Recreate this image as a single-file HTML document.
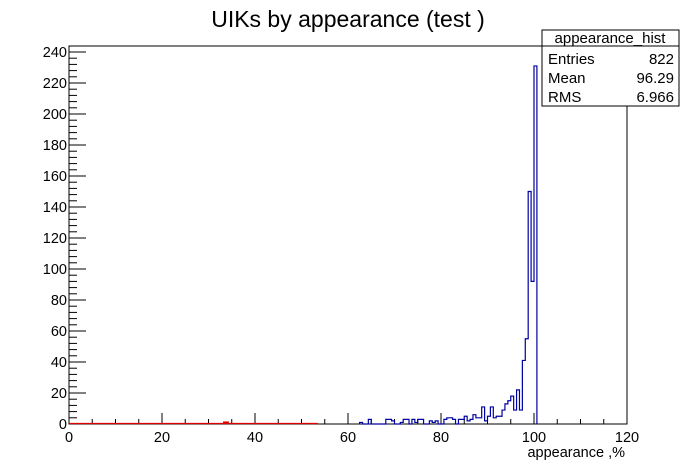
<!DOCTYPE html>
<html><head><meta charset="utf-8"><style>
body{margin:0;background:#fff;}
svg{display:block;font-family:"Liberation Sans",Arial,sans-serif;}
</style></head><body>
<svg id="c" width="696" height="472" viewBox="0 0 696 472">
<rect x="0" y="0" width="696" height="472" fill="#fff"/>
<text x="348" y="27" font-size="23" text-anchor="middle">UIKs by appearance (test )</text>
<rect x="69" y="46" width="558" height="378" fill="none" stroke="#000" stroke-width="1"/>
<g id="axes"></g>
<g id="hist"></g>
<text x="625" y="457" font-size="14.5" text-anchor="end">appearance ,%</text>
<g>
<rect x="542" y="30" width="137" height="76" fill="#fff" stroke="#000" stroke-width="1"/>
<line x1="542" y1="46" x2="679" y2="46" stroke="#000"/>
<text x="610" y="43" font-size="15" text-anchor="middle">appearance_hist</text>
<text x="548" y="64" font-size="15">Entries</text>
<text x="674" y="64" font-size="15" text-anchor="end">822</text>
<text x="548" y="83" font-size="15">Mean</text>
<text x="674" y="83" font-size="15" text-anchor="end">96.29</text>
<text x="548" y="102" font-size="15">RMS</text>
<text x="674" y="102" font-size="15" text-anchor="end">6.966</text>
</g>
</svg>
<script>
const xTicks=[0,20,40,60,80,100,120];
const yTicks=[0,20,40,60,80,100,120,140,160,180,200,220,240];
const binWidth=0.625;
const binLow=[62.5,64.375,68.125,68.75,69.375,71.25,71.875,72.5,73.75,74.375,75,75.625,77.5,78.125,78.75,80.625,81.25,81.875,82.5,83.75,84.375,85,85.625,86.25,86.875,87.5,88.125,88.75,89.375,90,90.625,91.25,91.875,92.5,93.125,93.75,94.375,95,95.625,96.25,96.875,97.5,98.125,98.75,99.375,100];
const counts=[1,3,3,3,2,1,3,3,3,1,3,3,2,1,2,3,4,4,3,3,3,5,2,3,6,4,4,11,2,5,11,4,5,5,9,13,15,18,9,22,9,41,55,150,92,231];
const redLow=[33.125];
const redCounts=[1];
const X0=69,X1=627,Y0=424,YT=46;
const sx=v=>X0+(v-0)/120*(X1-X0);
const sy=v=>Y0-v*1.55;
const NS="http://www.w3.org/2000/svg";
function mk(t,a,p){const e=document.createElementNS(NS,t);for(const k in a)e.setAttribute(k,a[k]);p.appendChild(e);return e;}
const ax=document.getElementById('axes');
for(let v=0;v<=120;v+=5){const maj=v%20===0;const l=mk('line',{x1:sx(v),x2:sx(v),y1:Y0,y2:Y0-(maj?11:5),stroke:'#000'},ax);

}
xTicks.forEach(v=>{const t=mk('text',{x:sx(v),y:Y0+18,'font-size':14.5,'text-anchor':'middle'},ax);t.textContent=v;

});
for(let v=0;v<=240;v+=4){const maj=v%20===0;const l=mk('line',{x1:X0,x2:X0+(maj?17:8),y1:sy(v),y2:sy(v),stroke:'#000'},ax);

}
yTicks.forEach(v=>{const t=mk('text',{x:X0-2,y:sy(v)+5,'font-size':14.5,'text-anchor':'end'},ax);t.textContent=v;

});
const hg=document.getElementById('hist');
const b1=mk('line',{x1:X0,x2:sx(53.5),y1:Y0-0.5,y2:Y0-0.5,stroke:'#e00000','stroke-width':1.3},hg);


redLow.forEach((v,i)=>{const r=mk('rect',{x:sx(v),y:sy(redCounts[i])-1,width:sx(v+binWidth*2)-sx(v),height:sy(0)-sy(redCounts[i])+1,fill:'#e00000'},hg);

});
let d='M'+sx(binLow[0])+','+Y0;
for(let i=0;i<binLow.length;i++){
 const a=binLow[i],b=a+binWidth;
 if(i>0&&Math.abs(binLow[i-1]+binWidth-a)>1e-6){d+=' L'+sx(binLow[i-1]+binWidth)+','+Y0+' L'+sx(a)+','+Y0;}
 d+=' L'+sx(a)+','+sy(counts[i])+' L'+sx(b)+','+sy(counts[i]);
}
d+=' L'+sx(binLow[binLow.length-1]+binWidth)+','+Y0;
const p=mk('path',{d:d,fill:'none',stroke:'#0000a0','stroke-width':1.2},hg);


</script>
</body></html>
